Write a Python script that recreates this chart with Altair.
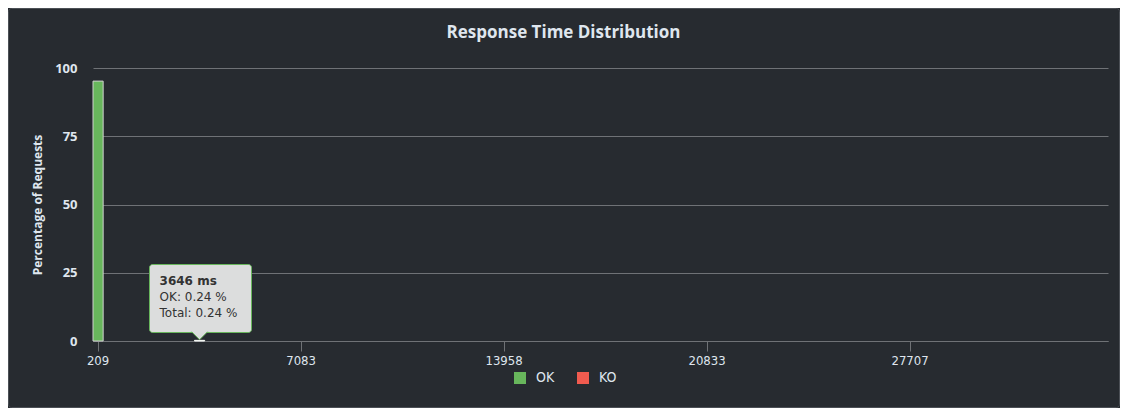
import math
import altair as alt
import pandas as pd

# ---------------- data ----------------
BIN_START = 209.25      # first response-time bin (ms)
BIN_WIDTH = 343.73      # bin width (ms)
N_BINS = 100
bin_labels = [str(math.floor(BIN_START + i * BIN_WIDTH)) for i in range(N_BINS)]
tick_labels = ["209", "7083", "13958", "20833", "27707"]

ok_bins = ["209", "3646"]
ok_pct = [95.2, 0.24]
ko_bins = []
ko_pct = []

status_names = ["OK", "KO"]
status_colors = ["#68b65c", "#f15b4f"]

hover_bin = "3646"
hover_ok = 0.24
hover_total = 0.24

rows = []
for b, v in zip(ok_bins, ok_pct):
    rows.append({"bin": b, "status": "OK", "pct": v, "hover": b == hover_bin})
for b, v in zip(ko_bins, ko_pct):
    rows.append({"bin": b, "status": "KO", "pct": v, "hover": b == hover_bin})
bars_df = pd.DataFrame(rows, columns=["bin", "status", "pct", "hover"])

tip_df = pd.DataFrame({
    "bin": [hover_bin],
    "base": [0],
    "line1": [f"{hover_bin} ms"],
    "line2": [f"OK: {hover_ok} %"],
    "line3": [f"Total: {hover_total} %"],
})

# ---------------- style ----------------
W, H = 1015, 273
PANEL_BG = "#272b30"
TEXT = "#dfe6ee"
GRID = "#6f7276"
BORDER = "#4c5056"

x_scale = alt.Scale(domain=bin_labels, paddingInner=0, paddingOuter=0)
y_scale = alt.Scale(domain=[0, 100], nice=False)

x_axis = alt.Axis(
    values=tick_labels, title=None, labelAngle=0,
    labelFont="DejaVu Sans Condensed", labelFontSize=13, labelColor=TEXT,
    labelPadding=3, tickSize=10, tickColor=GRID, tickWidth=1,
    domainColor=GRID, domainWidth=1, grid=False,
)
y_axis = alt.Axis(
    values=[0, 25, 50, 75, 100], title="Percentage of Requests",
    titleFont="Open Sans", titleFontSize=12, titleFontWeight="bold",
    titleColor=TEXT, titlePadding=10,
    labelFont="Open Sans", labelFontSize=13, labelFontWeight="bold",
    labelColor=TEXT, labelPadding=16, domain=False, ticks=False, tickSize=0,
    grid=True, gridColor=GRID, gridWidth=1,
)

x_enc = alt.X("bin:N", scale=x_scale, axis=x_axis, sort=None)

border = alt.Chart(pd.DataFrame({"a": [0]})).mark_rect(
    fill=PANEL_BG, fillOpacity=0, stroke=BORDER, strokeWidth=1, cornerRadius=3
).encode(
    x=alt.value(-84.5), x2=alt.value(W + 11.5),
    y=alt.value(-59.5), y2=alt.value(H + 66.5),
)

bars = alt.Chart(bars_df).mark_bar(strokeWidth=1).encode(
    x=x_enc,
    y=alt.Y("pct:Q", scale=y_scale, axis=y_axis, stack="zero"),
    color=alt.Color(
        "status:N",
        scale=alt.Scale(domain=status_names, range=status_colors),
        legend=alt.Legend(
            title=None, orient="none", direction="horizontal",
            legendX=420, legendY=303, symbolType="square", symbolSize=144,
            symbolStrokeWidth=0, labelFont="DejaVu Sans Condensed",
            labelFontSize=14, labelColor=TEXT, labelOffset=9,
            columnPadding=21, padding=0,
        ),
    ),
    stroke=alt.condition(alt.datum.hover, alt.value("#ffffff"), alt.value("#cfcfcf")),
)

tip_box = alt.Chart(tip_df).mark_rect(
    fill="#dcdddd", stroke="#68b65c", strokeWidth=1, cornerRadius=3
).encode(
    x=alt.value(56.5), x2=alt.value(158.5),
    y=alt.value(196.5), y2=alt.value(264.5),
)

tip_arrow = alt.Chart(tip_df).mark_point(
    shape="M-1,-0.5L0,0.5L1,-0.5", size=256, filled=True,
    fill="#dcdddd", stroke="#68b65c", strokeWidth=1, opacity=1,
).encode(
    x=x_enc,
    y=alt.Y("base:Q", scale=y_scale, axis=y_axis),
    yOffset=alt.value(-5.3),
)

def tip_text(field, dy, bold):
    return alt.Chart(tip_df).mark_text(
        align="left", baseline="alphabetic", dx=-40, dy=dy,
        font="DejaVu Sans", fontSize=12,
        fontWeight="bold" if bold else "normal", color="#333333",
    ).encode(
        x=x_enc,
        y=alt.Y("base:Q", scale=y_scale, axis=y_axis),
        text=f"{field}:N",
    )

chart = alt.layer(
    border, bars, tip_box, tip_arrow,
    tip_text("line1", -56, True),
    tip_text("line2", -40, False),
    tip_text("line3", -23.7, False),
).properties(
    width=W, height=H,
    title=alt.TitleParams(
        "Response Time Distribution", frame="group", anchor="middle",
        offset=0, dx=-37, dy=33.5, font="Open Sans", fontSize=17,
        fontWeight="bold", color=TEXT,
    ),
    autosize=alt.AutoSizeParams(type="none"),
    padding={"left": 85, "top": 60, "right": 12, "bottom": 67},
    background=PANEL_BG,
).configure_view(stroke=None)

chart.save("out.html", embed_options={"renderer": "svg", "actions": False})
